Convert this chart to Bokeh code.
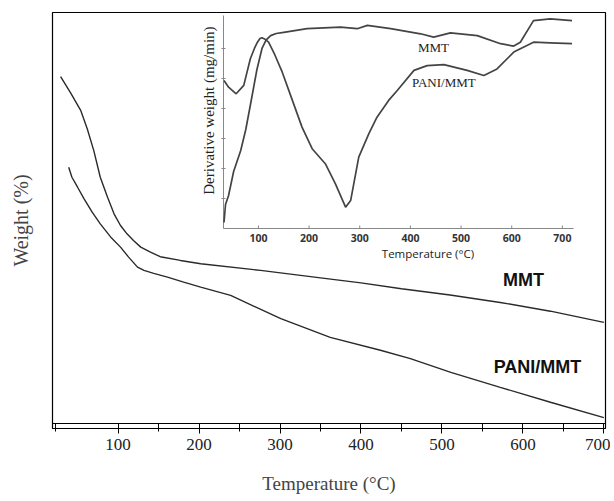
from bokeh.plotting import figure
from bokeh.models import Range1d, FixedTicker, Span
from bokeh.embed import file_html
from bokeh.resources import INLINE
from bokeh.core.properties import value

# ---- main TGA curves (temperature in degC, relative weight) ----
mmt_temp = [29, 41, 54, 62, 70, 78, 87, 95, 103, 111, 119, 128, 140, 152, 177, 202, 276, 350, 400, 450, 510, 572, 634, 700]
mmt_weight = [84.6, 80.8, 76.4, 72.0, 66.8, 60.4, 55.6, 51.6, 48.8, 46.8, 45.2, 43.6, 42.4, 41.3, 40.4, 39.6, 38.0, 36.2, 35.0, 33.6, 32.1, 30.3, 28.2, 25.5]

pani_temp = [39, 43, 50, 58, 68, 78, 91, 103, 113, 124, 132, 144, 161, 181, 202, 239, 301, 362, 424, 461, 511, 572, 634, 700]
pani_weight = [62.8, 60.4, 58.0, 55.2, 52.0, 49.2, 46.0, 43.6, 41.2, 38.8, 38.0, 37.3, 36.4, 35.2, 34.0, 32.0, 26.4, 21.9, 18.8, 16.8, 13.5, 9.9, 6.3, 2.6]

main_xticks = [100, 200, 300, 400, 500, 600, 700]
main_minor = [23, 150, 250, 350, 450, 550, 650]

# ---- inset DTG curves ----
mmt_dtg_temp = [32, 35, 41, 51, 65, 75, 85, 97, 107, 115, 124, 135, 150, 196, 262, 295, 315, 361, 420, 446, 479, 532, 578, 604, 617, 643, 676, 719]
mmt_dtg = [0.2, 0.8, 1.1, 1.9, 2.6, 3.3, 4.2, 5.3, 6.0, 6.28, 6.43, 6.5, 6.54, 6.66, 6.71, 6.66, 6.77, 6.66, 6.49, 6.38, 6.52, 6.43, 6.16, 6.08, 6.21, 6.93, 6.99, 6.93]

pani_dtg_temp = [32, 41, 56, 71, 84, 92, 98, 103, 107, 112, 120, 132, 147, 167, 186, 206, 232, 252, 272, 282, 298, 318, 334, 357, 374, 407, 433, 466, 512, 545, 571, 604, 643, 676, 719]
pani_dtg = [4.93, 4.71, 4.49, 4.77, 5.66, 6.0, 6.21, 6.33, 6.36, 6.32, 6.21, 5.8, 5.21, 4.27, 3.38, 2.66, 2.16, 1.49, 0.71, 0.93, 2.38, 3.16, 3.71, 4.27, 4.6, 5.27, 5.43, 5.46, 5.27, 5.1, 5.32, 5.88, 6.21, 6.19, 6.16]

inset_xticks = [100, 200, 300, 400, 500, 600, 700]
inset_xlabels = ["100", "200", "300", "400", "500", "600", "700"]
inset_yticks = [1, 2, 3, 4, 5, 6]

SERIF = "Liberation Serif"

p = figure(width=610, height=497, x_range=Range1d(19, 702), y_range=Range1d(0, 100),
           output_backend="svg", toolbar_location=None,
           min_border_left=52, min_border_right=5, min_border_top=12, min_border_bottom=69)
p.grid.visible = False
p.outline_line_color = "black"
p.outline_line_width = 1.2

# x axis (double line)
xa = p.xaxis[0]
xa.ticker = FixedTicker(ticks=main_xticks, minor_ticks=main_minor)
xa.axis_line_color = "black"
xa.axis_line_width = 1.2
xa.major_tick_in = 5
xa.major_tick_out = 5
xa.minor_tick_in = 5
xa.minor_tick_out = 3
xa.major_tick_line_color = "black"
xa.minor_tick_line_color = "black"
xa.major_label_standoff = 5
xa.major_label_text_font = "Liberation Sans Narrow"
xa.major_label_text_font_size = "17px"
xa.major_label_text_color = "#222"
xa.axis_label = "Temperature (°C)"
xa.axis_label_text_font = SERIF
xa.axis_label_text_font_style = "normal"
xa.axis_label_text_font_size = "19px"
xa.axis_label_standoff = 20
p.add_layout(Span(location=1.2, dimension="width", line_color="black", line_width=1.2))

ya = p.yaxis[0]
ya.ticker = FixedTicker(ticks=[])
ya.axis_line_color = None
ya.major_tick_line_color = None
ya.minor_tick_line_color = None
ya.major_label_text_font_size = "0px"
ya.major_label_standoff = 0
ya.axis_label = "Weight (%)"
ya.axis_label_text_font = SERIF
ya.axis_label_text_font_style = "normal"
ya.axis_label_text_font_size = "20px"
ya.axis_label_standoff = 21

p.line(mmt_temp, mmt_weight, line_color="#2a2a2a", line_width=1.4)
p.line(pani_temp, pani_weight, line_color="#2a2a2a", line_width=1.4)

p.text(x=[600.7], y=[35.8], text=["MMT"], text_align="center", text_baseline="middle",
       text_font=value("Liberation Sans"), text_font_style="bold", text_font_size="18px", text_color="#111")
p.text(x=[618], y=[14.9], text=["PANI/MMT"], text_align="center", text_baseline="middle",
       text_font=value("Liberation Sans"), text_font_style="bold", text_font_size="18px", text_color="#111")

# ---- inset ----
ins = p.subplot(x_source=Range1d(31, 722), y_source=Range1d(0, 7.1),
                x_target=Range1d(230.2, 662.5), y_target=Range1d(48.08, 99.28))
ins.segment(x0=[31, 31], y0=[0, 0], x1=[31, 722], y1=[7.1, 0], line_color="#888", line_width=1)
ins.segment(x0=inset_xticks, y0=0, x1=inset_xticks, y1=0.1, line_color="#888", line_width=1)
ins.segment(x0=27, y0=inset_yticks, x1=35, y1=inset_yticks, line_color="#888", line_width=1)
ins.text(x=inset_xticks, y=-0.33, text=inset_xlabels, text_align="center", text_baseline="middle",
         text_font=value("Open Sans"), text_font_size="10.5px", text_font_style="bold", text_color="#333")
ins.text(x=[434.6], y=[-0.83], text=["Temperature (°C)"], text_align="center", text_baseline="middle",
         text_font=value("Open Sans"), text_font_size="11.5px", text_color="#222")
ins.text(x=[2], y=[3.93], text=["Derivative weight (mg/min)"], angle=1.5708, text_align="center",
         text_baseline="middle", text_font=value(SERIF), text_font_size="15px", text_color="#222")

ins.line(mmt_dtg_temp, mmt_dtg, line_color="#444", line_width=1.7)
ins.line(pani_dtg_temp, pani_dtg, line_color="#444", line_width=1.7)
ins.text(x=[445.4], y=[6.04], text=["MMT"], text_align="center", text_baseline="middle",
         text_font=value(SERIF), text_font_size="13px", text_color="#222")
ins.text(x=[465.9], y=[4.87], text=["PANI/MMT"], text_align="center", text_baseline="middle",
         text_font=value(SERIF), text_font_size="13px", text_color="#222")

open("out.html", "w").write(file_html(p, INLINE))
